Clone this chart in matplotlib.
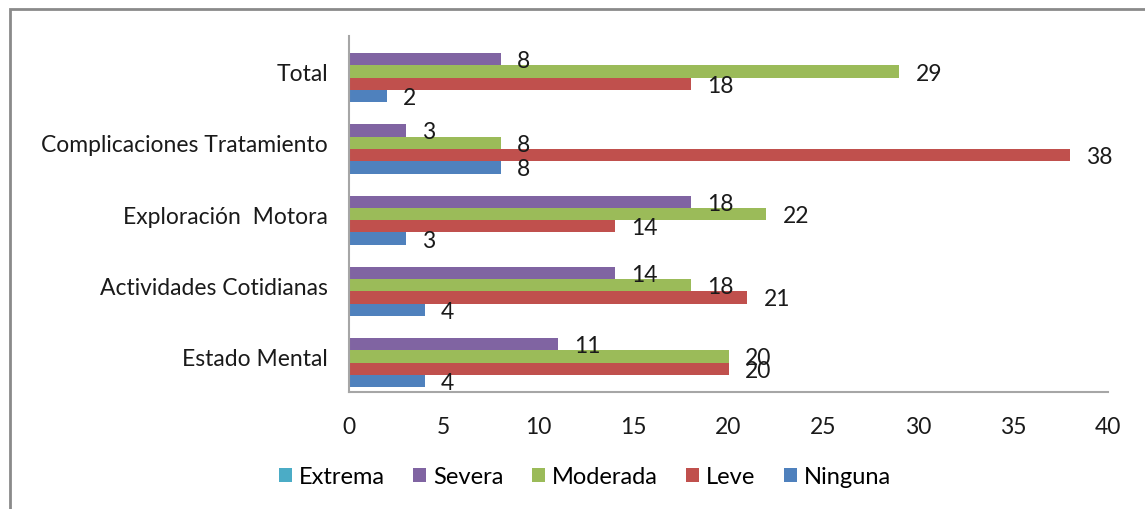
import matplotlib.pyplot as plt
from matplotlib.patches import Rectangle
import numpy as np

plt.rcParams['font.family'] = ['Lato', 'DejaVu Sans']

# Datos (categorias de abajo hacia arriba)
categorias = ['Estado Mental', 'Actividades Cotidianas', 'Exploración  Motora',
              'Complicaciones Tratamiento', 'Total']
ninguna = [4, 4, 3, 8, 2]
leve = [20, 21, 14, 38, 18]
moderada = [20, 18, 22, 8, 29]
severa = [11, 14, 18, 3, 8]
extrema = [0, 0, 0, 0, 0]

series = [('Ninguna', ninguna, '#4F81BD'),
          ('Leve', leve, '#C0504D'),
          ('Moderada', moderada, '#9BBB59'),
          ('Severa', severa, '#8064A2'),
          ('Extrema', extrema, '#4BACC6')]

fig = plt.figure(figsize=(11.45, 5.10), dpi=100)
ax = fig.add_axes([349 / 1145, 1 - 393 / 510, (1108 - 349) / 1145, (393 - 37) / 510])

# marco exterior del grafico
fig.patches.append(Rectangle((10 / 1145, -0.1), 1.2, 1 - 10 / 510 + 0.1,
                             transform=fig.transFigure, fill=False,
                             edgecolor='#8a8a8a', linewidth=2))

y = np.arange(len(categorias))
h = 0.173
handles = {}
for i, (nombre, valores, color) in enumerate(series):
    pos = y - 2 * h + i * h
    b = ax.barh(pos, valores, height=h, color=color, label=nombre)
    handles[nombre] = b
    if nombre == 'Extrema':
        continue
    for p, v in zip(pos, valores):
        ax.text(v + 0.85, p - 0.02, str(v), va='center', ha='left',
                fontsize=16.5, color='#1a1a1a')

ax.set_xlim(0, 40)
ax.set_ylim(-0.5, len(categorias) - 0.5)
ax.set_xticks(range(0, 41, 5))
ax.set_yticks(y)
ax.set_yticklabels(categorias)
ax.tick_params(length=0, labelsize=16.5, colors='#1a1a1a')
ax.tick_params(axis='y', pad=15)
ax.tick_params(axis='x', pad=17)
for s in ['top', 'right']:
    ax.spines[s].set_visible(False)
for s in ['left', 'bottom']:
    ax.spines[s].set_color('#a6a6a6')
    ax.spines[s].set_linewidth(1.5)

orden = ['Extrema', 'Severa', 'Moderada', 'Leve', 'Ninguna']
fig.legend([handles[n] for n in orden], orden, loc='center',
           bbox_to_anchor=(585 / 1145, 1 - 478 / 510), ncol=5, frameon=False,
           fontsize=17, handlelength=0.55, handleheight=0.55, handletextpad=0.3,
           columnspacing=1.2)

fig.savefig('out.png', dpi=100)
